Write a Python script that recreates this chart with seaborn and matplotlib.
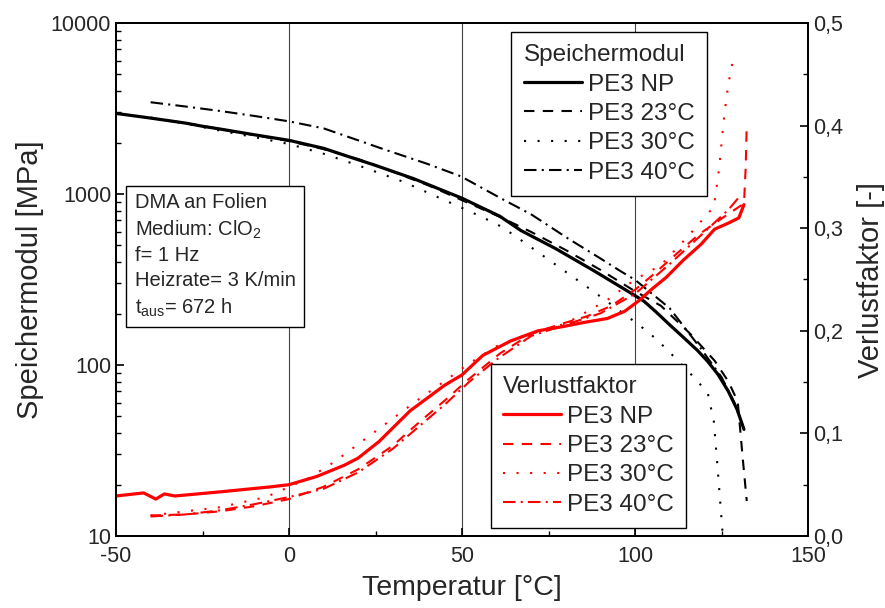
import numpy as np
import pandas as pd
import matplotlib
matplotlib.use('Agg')
import matplotlib.pyplot as plt
import seaborn as sns
from matplotlib.lines import Line2D
from matplotlib.ticker import FixedLocator, FuncFormatter, LogLocator, NullFormatter, MultipleLocator

sns.set_style('ticks')
plt.rcParams['font.family'] = ['Liberation Sans', 'DejaVu Sans']
plt.rcParams['mathtext.default'] = 'regular'
plt.rcParams['axes.unicode_minus'] = False

# ---------------- Speichermodul [MPa] (linke Achse, log)
t_np = [-50, -40, -30, -25, -20, -10, 0, 10, 17, 25, 36, 50, 61, 67, 77, 88, 99, 102.6, 106, 110, 114, 118, 121, 124, 127, 129.5, 131.5]
e_np = [2960, 2780, 2600, 2490, 2400, 2220, 2060, 1850, 1660, 1470, 1230, 945, 740, 612, 480, 357, 262, 236, 205, 172, 145, 122, 105, 88, 70, 55, 42]

t_23 = [-40, -30, -20, -10, 0, 10, 20, 30, 40, 50, 60, 70, 80, 90, 100, 107.5, 116, 123, 127, 129.7, 131.1, 132.3]
e_23 = [2780, 2600, 2400, 2210, 2040, 1830, 1600, 1350, 1130, 920, 750, 600, 470, 360, 270, 222, 152, 106, 80, 61, 29, 16]

t_30 = [-40, -30, -20, -10, 0, 10, 20, 33, 48.8, 56, 61, 65, 76.6, 88, 100.9, 104.6, 108.4, 112.4, 115.6, 121, 122.8, 123.9, 125.3]
e_30 = [2800, 2580, 2350, 2150, 1960, 1720, 1470, 1180, 850, 730, 650, 575, 392, 269, 173, 151, 128, 106, 91, 69, 46.6, 24.6, 10.5]

t_40 = [-40, -30, -20, -10, 0, 10, 20, 26.6, 40, 49.7, 61.3, 70, 80.6, 90, 96, 100, 110, 119, 125, 128.6, 131]
e_40 = [3440, 3250, 3060, 2860, 2660, 2420, 2060, 1850, 1500, 1268, 942, 760, 550, 420, 352, 315, 215, 125, 85, 61, 45]

# ---------------- Verlustfaktor [-] (rechte Achse)
tv_np = [-50, -42, -38.5, -36, -33, -20, -5, 0, 8, 16, 20, 26, 35, 45, 50, 56, 64, 72, 79, 85, 92, 97, 101, 105, 109, 114, 119, 123, 127, 130, 131.5]
v_np = [0.039, 0.042, 0.036, 0.041, 0.039, 0.043, 0.048, 0.050, 0.058, 0.069, 0.076, 0.092, 0.122, 0.147, 0.157, 0.176, 0.190, 0.200, 0.204, 0.208, 0.212, 0.219, 0.229, 0.241, 0.252, 0.269, 0.284, 0.299, 0.305, 0.310, 0.323]

tv_23 = [-40, -30, -20, -10, 0, 10, 20, 30, 38, 45, 52, 61, 70, 78, 86, 93, 100, 105, 112, 118.5, 127, 131.5, 132, 132.3]
v_23 = [0.020, 0.021, 0.024, 0.029, 0.036, 0.048, 0.065, 0.088, 0.112, 0.132, 0.153, 0.178, 0.197, 0.206, 0.214, 0.224, 0.240, 0.254, 0.275, 0.294, 0.314, 0.324, 0.360, 0.402]

tv_30 = [-40, -20, -6.6, 5.5, 13, 21, 29, 37, 45, 52, 60, 70, 80, 92, 100, 107.5, 115.3, 122.8, 124.3, 125.7, 126.9, 128.6]
v_30 = [0.020, 0.028, 0.038, 0.056, 0.072, 0.092, 0.112, 0.132, 0.151, 0.168, 0.185, 0.198, 0.207, 0.230, 0.250, 0.264, 0.292, 0.321, 0.358, 0.407, 0.439, 0.469]

tv_40 = [-40, -30, -20, -10, 0, 10, 20, 30, 38, 45, 52, 60, 70, 80, 90, 100, 110, 120, 127, 130]
v_40 = [0.019, 0.021, 0.025, 0.031, 0.038, 0.046, 0.062, 0.085, 0.108, 0.128, 0.150, 0.172, 0.195, 0.206, 0.217, 0.236, 0.265, 0.296, 0.318, 0.330]

labels = ['PE3 NP', 'PE3 23°C', 'PE3 30°C', 'PE3 40°C']
styles = ['-', (0, (5, 4)), (0, (1, 5.5)), (0, (6, 2.5, 1, 2.5))]
widths = [2.3, 1.5, 1.5, 1.5]

fig = plt.figure(figsize=(8.85, 6.08), dpi=100)
ax = fig.add_axes([116 / 885, 1 - 536 / 608, (808 - 116) / 885, (536 - 23) / 608])
ax2 = ax.twinx()

e_sets = [(t_np, e_np), (t_23, e_23), (t_30, e_30), (t_40, e_40)]
v_sets = [(tv_np, v_np), (tv_23, v_23), (tv_30, v_30), (tv_40, v_40)]

for (t, e), ls, lw in zip(e_sets, styles, widths):
    sns.lineplot(x=t, y=e, ax=ax, color='black', linestyle=ls, linewidth=lw,
                 estimator=None, sort=False, legend=False)
for (t, v), ls, lw in zip(v_sets, styles, widths):
    sns.lineplot(x=t, y=v, ax=ax2, color='red', linestyle=ls, linewidth=lw,
                 estimator=None, sort=False, legend=False)

ax.set_yscale('log')
ax.set_xlim(-50, 150)
ax.set_ylim(10, 10000)
ax2.set_ylim(0, 0.5)

ax.xaxis.set_major_locator(MultipleLocator(50))
ax.xaxis.set_minor_locator(MultipleLocator(25))
ax.yaxis.set_major_locator(FixedLocator([10, 100, 1000, 10000]))
ax.yaxis.set_major_formatter(FuncFormatter(lambda v, p: f'{v:.0f}'))
ax.yaxis.set_minor_locator(LogLocator(base=10, subs=np.arange(2, 10)))
ax.yaxis.set_minor_formatter(NullFormatter())
ax2.yaxis.set_major_locator(MultipleLocator(0.1))
ax2.yaxis.set_minor_locator(MultipleLocator(0.05))
ax2.yaxis.set_major_formatter(FuncFormatter(lambda v, p: f'{v:.1f}'.replace('.', ',')))

for a in (ax, ax2):
    a.tick_params(which='major', direction='in', length=6, width=1.2, labelsize=15.5, color='black')
    a.tick_params(which='minor', direction='in', length=3.5, width=1.0, color='black')
    for s in a.spines.values():
        s.set_linewidth(1.3)
        s.set_color('black')
ax.tick_params(axis='x', pad=7)

for xv in [0, 50, 100]:
    ax.axvline(xv, color='#444444', linewidth=0.8, zorder=0)

ax.set_xlabel('Temperatur [°C]', fontsize=20.5, labelpad=6)
ax.set_ylabel('Speichermodul [MPa]', fontsize=21, labelpad=5)
ax2.set_ylabel('Verlustfaktor [-]', fontsize=21, labelpad=10)

ax.text(0.027, 0.669,
        'DMA an Folien\nMedium: ClO$_2$\nf= 1 Hz\nHeizrate= 3 K/min\nt$_{aus}$= 672 h',
        transform=ax.transAxes, fontsize=14.5, va='top', ha='left', linespacing=1.38,
        bbox=dict(boxstyle='square,pad=0.42', facecolor='white', edgecolor='black', linewidth=1.0),
        zorder=5)

h1 = [Line2D([], [], color='black', linestyle=ls, linewidth=lw) for ls, lw in zip(styles, widths)]
h2 = [Line2D([], [], color='red', linestyle=ls, linewidth=lw) for ls, lw in zip(styles, widths)]

legend_kw = dict(fontsize=17.5, title_fontsize=17.5, frameon=True, fancybox=False,
                 edgecolor='black', framealpha=1, handlelength=2.4, handletextpad=0.25,
                 labelspacing=0.3, borderpad=0.5, borderaxespad=0, alignment='left')
leg1 = ax2.legend(h1, labels, title='Speichermodul', loc='upper right',
                  bbox_to_anchor=(0.854, 0.982), **legend_kw)
leg1.get_frame().set_linewidth(1.0)
ax2.add_artist(leg1)
leg2 = ax2.legend(h2, labels, title='Verlustfaktor', loc='lower right',
                  bbox_to_anchor=(0.824, 0.016), **legend_kw)
leg2.get_frame().set_linewidth(1.0)

fig.savefig('out.png', dpi=100)
